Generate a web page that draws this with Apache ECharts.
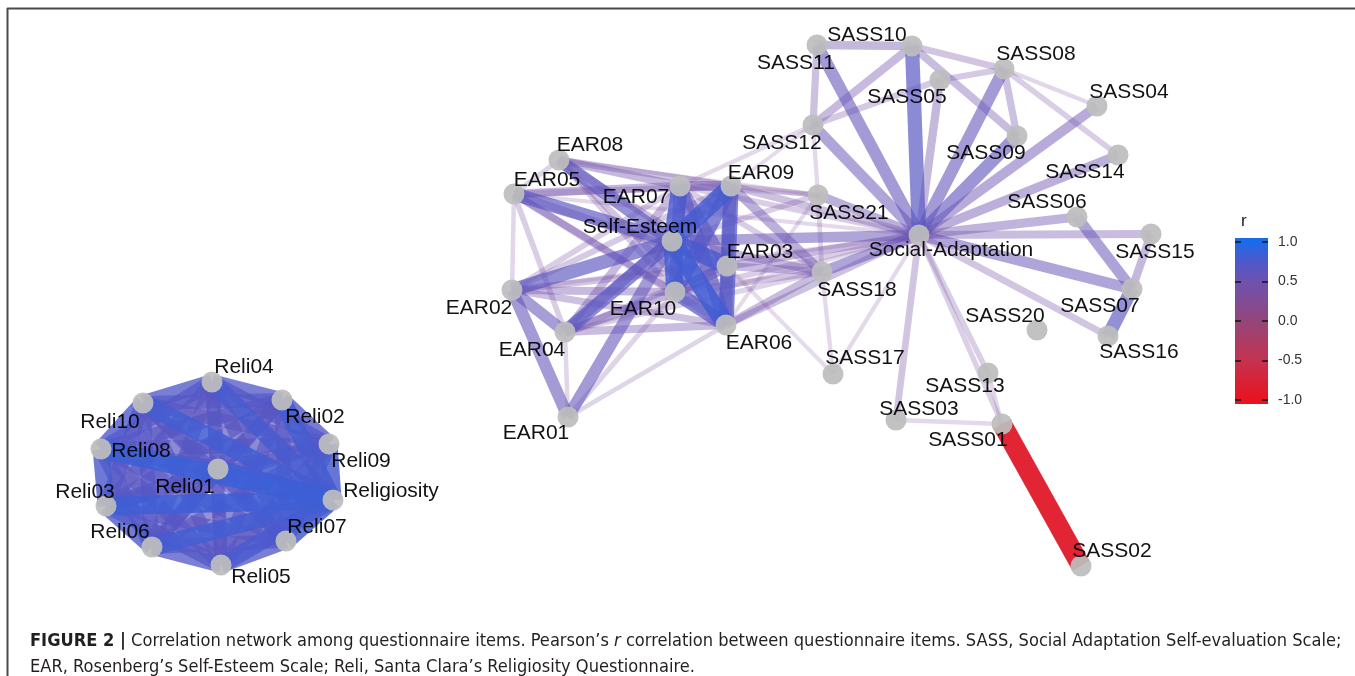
<!DOCTYPE html>
<html><head><meta charset="utf-8">
<script src="https://cdn.jsdelivr.net/npm/echarts@6/dist/echarts.min.js"></script>
<style>html,body{margin:0;padding:0;background:#fff}#chart{width:1355px;height:676px}</style>
</head><body><div id="chart"></div>
<script>
// ---- Node layout (MDS-like layout coordinates, dimension 1 / dimension 2) ----
const nodeNames = ['EAR01','EAR02','EAR03','EAR04','EAR05','EAR06','EAR07','EAR08','EAR09','EAR10','Self-Esteem',
  'SASS01','SASS02','SASS03','SASS04','SASS05','SASS06','SASS07','SASS08','SASS09','SASS10','SASS11','SASS12',
  'SASS13','SASS14','SASS15','SASS16','SASS17','SASS18','SASS20','SASS21','Social-Adaptation',
  'Reli01','Reli02','Reli03','Reli04','Reli05','Reli06','Reli07','Reli08','Reli09','Reli10','Religiosity'];
const nodeDim1 = [-1.32,-1.88,0.27,-1.35,-1.86,0.26,-0.20,-1.41,0.31,-0.25,-0.28,
  3.02,3.81,1.96,3.97,2.40,3.77,4.32,3.04,3.17,2.12,1.17,1.13,
  2.88,4.18,4.51,4.08,1.33,1.22,3.37,1.18,2.19,
  -4.82,-4.18,-5.94,-4.88,-4.79,-5.48,-4.14,-5.99,-3.71,-5.57,-3.67];
const nodeDim2 = [-0.67,0.60,0.84,0.18,1.56,0.25,1.64,1.90,1.64,0.58,1.09,
  -0.74,-2.16,-0.70,2.44,2.70,1.33,0.61,2.81,2.14,3.04,3.05,2.25,
  -0.23,1.95,1.16,0.14,-0.24,0.78,0.20,1.55,1.15,
  -1.19,-0.50,-1.56,-0.32,-2.15,-1.97,-1.91,-0.99,-0.94,-0.53,-1.50];

// ---- Correlations (edges with |r| >= 0.3) ----
const edgesSelfEsteem = [
  ['Self-Esteem','EAR07',0.78],['Self-Esteem','EAR09',0.80],['Self-Esteem','EAR03',0.78],
  ['Self-Esteem','EAR10',0.80],['Self-Esteem','EAR06',0.82],['Self-Esteem','EAR08',0.64],
  ['Self-Esteem','EAR05',0.66],['Self-Esteem','EAR02',0.65],['Self-Esteem','EAR04',0.67],
  ['Self-Esteem','EAR01',0.60],['EAR07','EAR09',0.52],['EAR09','EAR06',0.72],['EAR09','EAR10',0.70],
  ['EAR07','EAR10',0.62],['EAR07','EAR06',0.66],['EAR07','EAR03',0.58],['EAR10','EAR06',0.70],
  ['EAR03','EAR06',0.60],['EAR09','EAR03',0.60],['EAR03','EAR10',0.58],['EAR02','EAR04',0.58],
  ['EAR02','EAR01',0.60],['EAR04','EAR01',0.32],['EAR04','EAR09',0.52],['EAR04','EAR07',0.45],
  ['EAR04','EAR10',0.48],['EAR04','EAR06',0.44],['EAR04','EAR03',0.40],['EAR01','EAR06',0.33],
  ['EAR01','EAR10',0.34],['EAR02','EAR10',0.45],['EAR02','EAR06',0.42],['EAR02','EAR03',0.40],
  ['EAR02','EAR07',0.36],['EAR02','EAR09',0.38],['EAR02','EAR05',0.32],['EAR05','EAR07',0.46],
  ['EAR05','EAR09',0.40],['EAR05','EAR03',0.44],['EAR05','EAR10',0.42],['EAR05','EAR06',0.44],
  ['EAR05','EAR04',0.36],['EAR05','EAR08',0.34],['EAR08','EAR07',0.46],['EAR08','EAR09',0.42],
  ['EAR08','EAR03',0.44],['EAR08','EAR10',0.36],['EAR08','EAR06',0.40]
];
const edgesCross = [
  ['Self-Esteem','Social-Adaptation',0.55],['EAR03','Social-Adaptation',0.45],['EAR09','Social-Adaptation',0.42],
  ['EAR06','Social-Adaptation',0.42],['EAR10','Social-Adaptation',0.36],['EAR07','Social-Adaptation',0.36],
  ['EAR02','Social-Adaptation',0.32],['EAR05','Social-Adaptation',0.31],['EAR04','Social-Adaptation',0.31],
  ['EAR09','SASS18',0.50],['EAR03','SASS18',0.44],['Self-Esteem','SASS18',0.46],['EAR07','SASS18',0.36],
  ['EAR10','SASS18',0.40],['EAR06','SASS18',0.44],['EAR04','SASS18',0.34],['EAR09','SASS21',0.36],
  ['EAR07','SASS21',0.32],['Self-Esteem','SASS21',0.36],['EAR08','SASS21',0.31],['EAR07','SASS12',0.31],
  ['EAR09','SASS12',0.30],['EAR03','SASS17',0.30],['EAR06','SASS21',0.30]
];
const edgesSASS = [
  ['Social-Adaptation','SASS10',0.68],['Social-Adaptation','SASS11',0.60],['Social-Adaptation','SASS12',0.55],
  ['Social-Adaptation','SASS05',0.46],['Social-Adaptation','SASS08',0.60],['Social-Adaptation','SASS09',0.62],
  ['Social-Adaptation','SASS04',0.52],['Social-Adaptation','SASS14',0.50],['Social-Adaptation','SASS06',0.48],
  ['Social-Adaptation','SASS15',0.44],['Social-Adaptation','SASS07',0.55],['Social-Adaptation','SASS16',0.40],
  ['Social-Adaptation','SASS18',0.55],['Social-Adaptation','SASS21',0.50],['Social-Adaptation','SASS17',0.31],
  ['Social-Adaptation','SASS03',0.40],['Social-Adaptation','SASS13',0.36],['Social-Adaptation','SASS01',0.35],
  ['SASS10','SASS11',0.46],['SASS10','SASS12',0.45],['SASS10','SASS08',0.40],['SASS10','SASS09',0.44],
  ['SASS11','SASS12',0.42],['SASS12','SASS05',0.38],['SASS05','SASS08',0.38],['SASS08','SASS09',0.42],
  ['SASS08','SASS04',0.32],['SASS08','SASS14',0.36],['SASS06','SASS07',0.56],['SASS15','SASS07',0.46],
  ['SASS07','SASS16',0.65],['SASS12','SASS21',0.31],['SASS21','SASS18',0.33],['SASS18','SASS17',0.31],
  ['SASS13','SASS01',0.32],['SASS03','SASS01',0.31],['SASS01','SASS02',-0.88]
];
const edgesReli = [
  ['Reli01','Reli02',0.68],['Reli01','Reli03',0.72],['Reli01','Reli04',0.70],['Reli01','Reli05',0.66],
  ['Reli01','Reli06',0.71],['Reli01','Reli07',0.69],['Reli01','Reli08',0.74],['Reli01','Reli09',0.67],
  ['Reli01','Reli10',0.70],['Reli02','Reli03',0.66],['Reli02','Reli04',0.73],['Reli02','Reli05',0.64],
  ['Reli02','Reli06',0.65],['Reli02','Reli07',0.70],['Reli02','Reli08',0.68],['Reli02','Reli09',0.75],
  ['Reli02','Reli10',0.67],['Reli03','Reli04',0.67],['Reli03','Reli05',0.69],['Reli03','Reli06',0.76],
  ['Reli03','Reli07',0.66],['Reli03','Reli08',0.77],['Reli03','Reli09',0.65],['Reli03','Reli10',0.72],
  ['Reli04','Reli05',0.63],['Reli04','Reli06',0.66],['Reli04','Reli07',0.67],['Reli04','Reli08',0.70],
  ['Reli04','Reli09',0.69],['Reli04','Reli10',0.74],['Reli05','Reli06',0.73],['Reli05','Reli07',0.74],
  ['Reli05','Reli08',0.66],['Reli05','Reli09',0.67],['Reli05','Reli10',0.64],['Reli06','Reli07',0.68],
  ['Reli06','Reli08',0.71],['Reli06','Reli09',0.64],['Reli06','Reli10',0.69],['Reli07','Reli08',0.67],
  ['Reli07','Reli09',0.72],['Reli07','Reli10',0.65],['Reli08','Reli09',0.68],['Reli08','Reli10',0.76],
  ['Reli09','Reli10',0.66],
  ['Religiosity','Reli01',0.82],['Religiosity','Reli02',0.80],['Religiosity','Reli03',0.83],
  ['Religiosity','Reli04',0.79],['Religiosity','Reli05',0.78],['Religiosity','Reli06',0.81],
  ['Religiosity','Reli07',0.80],['Religiosity','Reli08',0.84],['Religiosity','Reli09',0.79],
  ['Religiosity','Reli10',0.81]
];
const legendTicks = [-1, -0.5, 0, 0.5, 1];

// ---- Styling (label placement, colour scale) ----
const labelOffset = {
  'EAR08':[31,-15],'EAR05':[33,-14],'EAR07':[-44,11],'EAR09':[30,-13],'Self-Esteem':[-32,-14],'EAR03':[33,-14],
  'EAR02':[-33,18],'EAR10':[-32,17],'EAR04':[-33,18],'EAR06':[33,18],'EAR01':[-32,16],
  'SASS10':[-45,-11],'SASS11':[-21,18],'SASS08':[32,-15],'SASS05':[-33,17],'SASS04':[32,-14],'SASS12':[-31,18],
  'SASS09':[-31,17],'SASS14':[-33,17],'SASS21':[31,18],'SASS06':[-30,-15],'Social-Adaptation':[32,15],
  'SASS15':[4,18],'SASS18':[35,18],'SASS07':[-32,17],'SASS20':[-32,-14],'SASS16':[31,16],'SASS17':[32,-16],
  'SASS13':[-23,13],'SASS03':[23,-11],'SASS01':[-34,16],'SASS02':[31,-15],
  'Reli04':[32,-15],'Reli10':[-33,19],'Reli02':[33,17],'Reli08':[40,2],'Reli09':[32,17],'Reli01':[-33,18],
  'Reli03':[-21,-14],'Religiosity':[58,-9],'Reli06':[-32,-15],'Reli07':[31,-14],'Reli05':[40,12]
};
const colorStops = [[-1,[232,19,30]],[-0.5,[197,50,80]],[0,[147,70,122]],[0.5,[110,82,176]],[0.75,[80,88,202]],[1,[26,107,234]]];
function rgbFor(r){
  r = Math.max(-1, Math.min(1, r));
  for (let i = 0; i < colorStops.length - 1; i++) {
    const [a, ca] = colorStops[i], [b, cb] = colorStops[i+1];
    if (r >= a && r <= b) {
      const t = (r - a) / (b - a);
      return 'rgb(' + ca.map((v, k) => Math.round(v + (cb[k] - v) * t)).join(',') + ')';
    }
  }
  return 'rgb(26,107,234)';
}
const edgeAlpha = r => Math.min(1, 0.2 + (Math.abs(r) - 0.3) * 1.3);
const edgeWidth = r => 4 + (Math.abs(r) - 0.3) * 27;

const allEdges = [].concat(edgesReli, edgesSelfEsteem, edgesCross, edgesSASS)
  .slice().sort((a, b) => Math.abs(a[2]) - Math.abs(b[2]));

const nodeData = nodeNames.map((n, i) => ({ name: n, value: [nodeDim1[i], nodeDim2[i]] }));
const linkData = allEdges.map(e => ({
  source: e[0], target: e[1], value: e[2],
  lineStyle: { color: rgbFor(e[2]), opacity: edgeAlpha(e[2]), width: edgeWidth(e[2]), curveness: 0 }
}));
const pointData = nodeNames.map((n, i) => ({
  name: n, value: [nodeDim1[i], nodeDim2[i]],
  label: { offset: labelOffset[n] || [0, 0] }
}));

const gradStops = [{ offset: 0, color: rgbFor(1) }];
[1, 0.75, 0.5, 0, -0.5, -1].forEach(v => gradStops.push({ offset: (1.05 - v) / 2.1, color: rgbFor(v) }));
gradStops.push({ offset: 1, color: rgbFor(-1) });

// ---- Caption text, fitted to the figure width ----
const capFamily = '"Liberation Sans Narrow", "Arial Narrow", "DejaVu Sans Condensed", sans-serif';
const capBold = 'FIGURE 2 |';
const capA = ' Correlation network among questionnaire items. Pearson\u2019s ';
const capR = 'r';
const capB = ' correlation between questionnaire items. SASS, Social Adaptation Self-evaluation Scale;';
const capLine2 = 'EAR, Rosenberg\u2019s Self-Esteem Scale; Reli, Santa Clara\u2019s Religiosity Questionnaire.';
const mctx = document.createElement('canvas').getContext('2d');
function tw(font, s) { mctx.font = font; return mctx.measureText(s).width; }
const baseFs = 18;
const line1W = tw('bold ' + baseFs + 'px ' + capFamily, capBold) + tw(baseFs + 'px ' + capFamily, capA + capB)
  + tw('italic ' + baseFs + 'px ' + capFamily, capR);
const capFs = Math.min(19, baseFs * 1312 / line1W);

const chart = echarts.init(document.getElementById('chart'), null, { renderer: 'canvas' });
const capStyle = { fontFamily: capFamily, fontSize: capFs, color: '#231f20', lineHeight: 26, fontWeight: 'normal' };
const option = {
  animation: false,
  backgroundColor: '#ffffff',
  title: [{
    left: 25, top: 623,
    text: '{b|' + capBold + '}{n|' + capA + '}{i|' + capR + '}{n|' + capB + '}\n{n|' + capLine2 + '}',
    textStyle: {
      fontWeight: 'normal', fontSize: capFs, fontFamily: capFamily,
      rich: {
        b: Object.assign({}, capStyle, { fontWeight: 'bold' }),
        n: capStyle,
        i: Object.assign({}, capStyle, { fontStyle: 'italic' })
      }
    }
  }, {
    left: 1236, top: 208, text: 'r',
    textStyle: { fontFamily: '"Liberation Sans", Arial, sans-serif', fontWeight: 'normal', fontSize: 17, color: '#222' }
  }],
  grid: [
    { left: 0, top: 0, width: 1355, height: 676, show: false },
    { left: 1235, top: 238, width: 33, height: 166, show: true, borderWidth: 0,
      backgroundColor: new echarts.graphic.LinearGradient(0, 0, 0, 1, gradStops) }
  ],
  xAxis: [
    { type: 'value', gridIndex: 0, min: -7.00, max: 6.55, show: false },
    { type: 'value', gridIndex: 1, min: 0, max: 1, show: false }
  ],
  yAxis: [
    { type: 'value', gridIndex: 0, min: -3.26, max: 3.50, show: false },
    { type: 'value', gridIndex: 1, min: -1.05, max: 1.05, position: 'left',
      axisLine: { show: false }, splitLine: { show: false }, axisLabel: { show: false },
      axisTick: { show: true, inside: true, length: 6, lineStyle: { color: '#1a1a1a', width: 1.6 }, customValues: legendTicks } },
    { type: 'value', gridIndex: 1, min: -1.05, max: 1.05, position: 'right',
      axisLine: { show: false }, splitLine: { show: false },
      axisTick: { show: true, inside: true, length: 6, lineStyle: { color: '#1a1a1a', width: 1.6 }, customValues: legendTicks },
      axisLabel: { show: true, customValues: legendTicks, margin: 10, formatter: v => Number(v).toFixed(1),
        fontFamily: '"Liberation Sans", Arial, sans-serif', fontSize: 14, color: '#333' } }
  ],
  graphic: [
    { type: 'line', shape: { x1: 7, y1: 8.5, x2: 1355, y2: 8.5 }, style: { stroke: '#4a4a4a', lineWidth: 2 }, silent: true },
    { type: 'line', shape: { x1: 7.5, y1: 8, x2: 7.5, y2: 676 }, style: { stroke: '#4a4a4a', lineWidth: 2 }, silent: true }
  ],
  series: [
    {
      type: 'graph', coordinateSystem: 'cartesian2d', xAxisIndex: 0, yAxisIndex: 0,
      layout: 'none', silent: true, z: 2,
      symbolSize: 1, itemStyle: { opacity: 0 }, label: { show: false },
      edgeSymbol: ['none', 'none'],
      data: nodeData, links: linkData,
      emphasis: { disabled: true }
    },
    {
      type: 'scatter', xAxisIndex: 0, yAxisIndex: 0, z: 5, silent: true,
      symbol: 'circle', symbolSize: 21,
      itemStyle: { color: '#bdbdbd', opacity: 0.93 },
      label: { show: true, position: 'inside', formatter: '{b}',
        fontFamily: '"Liberation Sans", Arial, sans-serif', fontSize: 21, color: '#000' },
      data: pointData,
      emphasis: { disabled: true }
    }
  ]
};
chart.setOption(option);
</script>
</body></html>
